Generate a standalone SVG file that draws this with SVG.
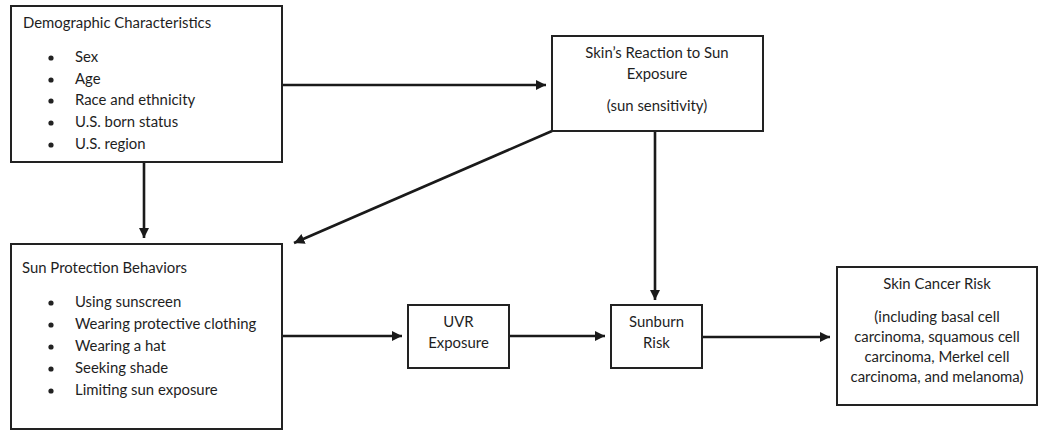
<svg xmlns="http://www.w3.org/2000/svg" width="1039" height="431" viewBox="0 0 1039 431">
<defs>
<marker id="ah" viewBox="0 0 10 10" refX="10" refY="5" markerWidth="4" markerHeight="4" markerUnits="strokeWidth" orient="auto">
<path d="M0,0 L10,5 L0,10 Z" fill="#1a1a1a"/>
</marker>
</defs>
<style>
.box{fill:#fff;stroke:#222;stroke-width:2}
.t{font-family:Lato,"Liberation Sans",sans-serif;font-size:14.9px;fill:#1e1e1e}
.c{text-anchor:middle}
.e{stroke:#1a1a1a;stroke-width:2.6;fill:none;marker-end:url(#ah)}
</style>
<rect width="1039" height="431" fill="#fff"/>
<g id="connectors">
<line class="e" x1="283" y1="85" x2="546" y2="85"/>
<line class="e" x1="144" y1="162" x2="144" y2="238"/>
<line class="e" x1="552" y1="131" x2="294" y2="243"/>
<line class="e" x1="655" y1="132" x2="655" y2="300"/>
<line class="e" x1="283" y1="336" x2="402" y2="336"/>
<line class="e" x1="509" y1="336" x2="605" y2="336"/>
<line class="e" x1="702" y1="337" x2="830" y2="337"/>
</g>
<g id="demographic">
<rect class="box" x="11" y="6" width="271" height="156"/>
<text class="t" x="23" y="28">Demographic Characteristics</text>
<circle cx="51" cy="58" r="2.6" fill="#222"/><text class="t" x="75" y="62">Sex</text>
<circle cx="51" cy="80" r="2.6" fill="#222"/><text class="t" x="75" y="84">Age</text>
<circle cx="51" cy="101" r="2.6" fill="#222"/><text class="t" x="75" y="105">Race and ethnicity</text>
<circle cx="51" cy="123" r="2.6" fill="#222"/><text class="t" x="75" y="127">U.S. born status</text>
<circle cx="51" cy="145" r="2.6" fill="#222"/><text class="t" x="75" y="149">U.S. region</text>
</g>
<g id="skin-reaction">
<rect class="box" x="552" y="36" width="211" height="95"/>
<text class="t c" x="657" y="58">Skin’s Reaction to Sun</text>
<text class="t c" x="657" y="79">Exposure</text>
<text class="t c" x="657" y="111">(sun sensitivity)</text>
</g>
<g id="sun-protection">
<rect class="box" x="11" y="244" width="271" height="185"/>
<text class="t" x="22" y="273">Sun Protection Behaviors</text>
<circle cx="51" cy="303" r="2.6" fill="#222"/><text class="t" x="75" y="307">Using sunscreen</text>
<circle cx="51" cy="325" r="2.6" fill="#222"/><text class="t" x="75" y="329">Wearing protective clothing</text>
<circle cx="51" cy="347" r="2.6" fill="#222"/><text class="t" x="75" y="351">Wearing a hat</text>
<circle cx="51" cy="369" r="2.6" fill="#222"/><text class="t" x="75" y="373">Seeking shade</text>
<circle cx="51" cy="391" r="2.6" fill="#222"/><text class="t" x="75" y="395">Limiting sun exposure</text>
</g>
<g id="uvr">
<rect class="box" x="408" y="305" width="101" height="63"/>
<text class="t c" x="458.5" y="327">UVR</text>
<text class="t c" x="458.5" y="348">Exposure</text>
</g>
<g id="sunburn">
<rect class="box" x="611" y="305" width="91" height="63"/>
<text class="t c" x="656.5" y="327">Sunburn</text>
<text class="t c" x="656.5" y="348">Risk</text>
</g>
<g id="skin-cancer">
<rect class="box" x="837" y="267" width="200" height="138"/>
<text class="t c" x="937" y="289">Skin Cancer Risk</text>
<text class="t c" x="937" y="322">(including basal cell</text>
<text class="t c" x="937" y="342">carcinoma, squamous cell</text>
<text class="t c" x="937" y="362">carcinoma, Merkel cell</text>
<text class="t c" x="937" y="382">carcinoma, and melanoma)</text>
</g>
</svg>
